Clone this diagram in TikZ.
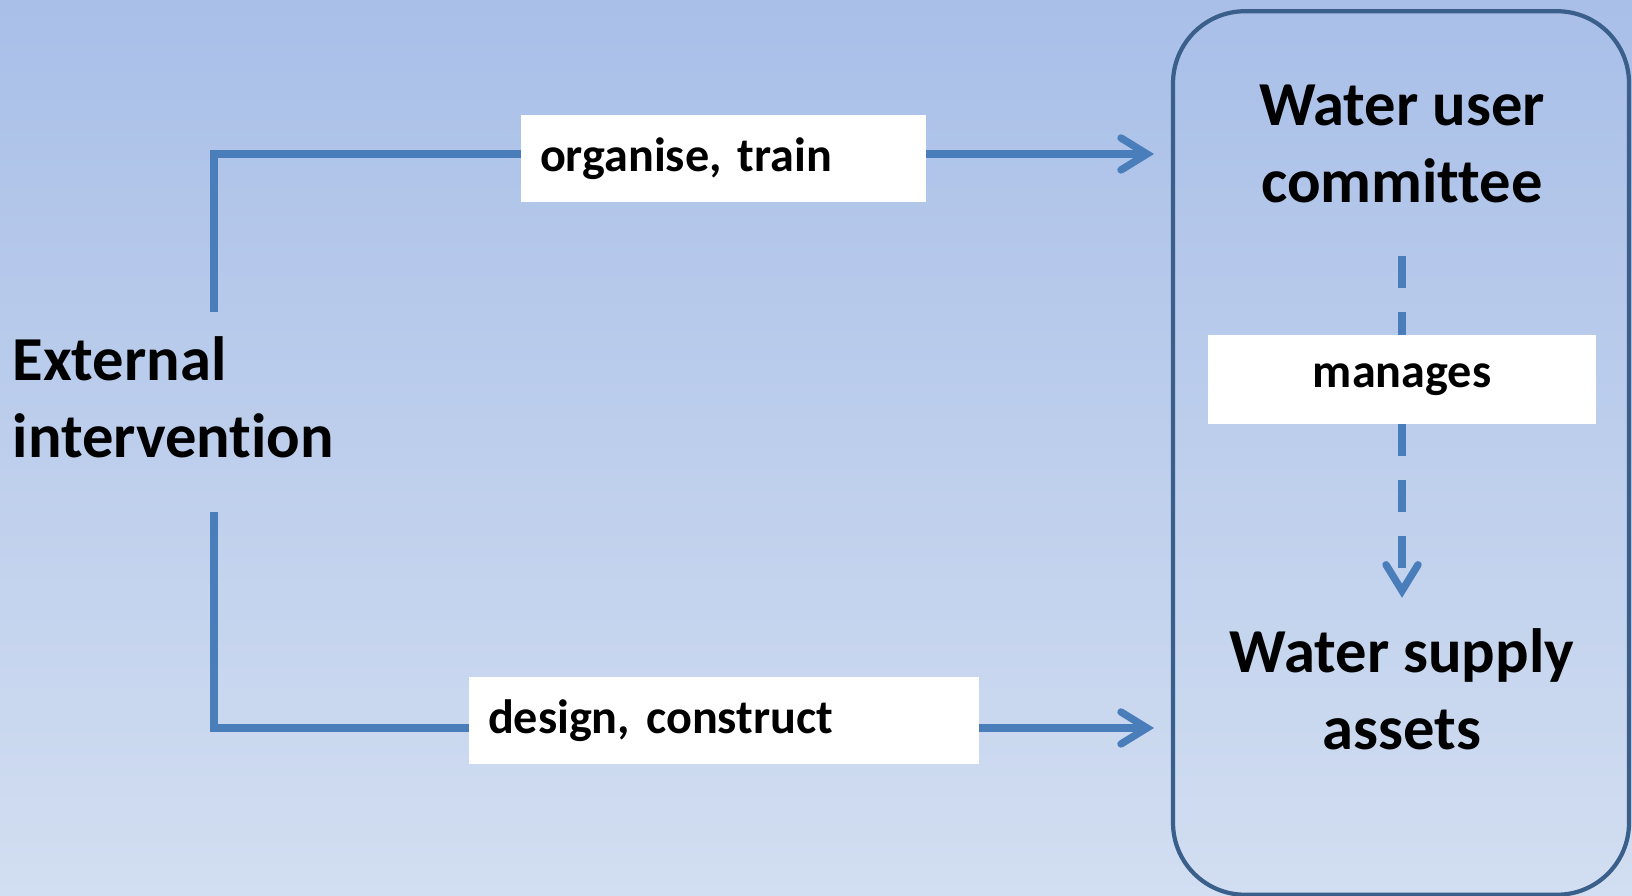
\documentclass[tikz,border=0pt]{standalone}
\usepackage{fontspec}
\setmainfont{Carlito}[RawFeature={-liga;-clig;-dlig;-calt}]
\usepackage{xcolor}
\usetikzlibrary{arrows.meta, calc}
\definecolor{skytop}{HTML}{A9BFE8}
\definecolor{skybot}{HTML}{D2DEF1}
\definecolor{linkblue}{HTML}{4A7EBB}
\definecolor{frameblue}{HTML}{3A5F8B}
\frenchspacing
\tikzset{
  flow/.style={-{Straight Barb[length=2.6mm, width=3.2mm, line cap=round]}, line width=2.1pt, color=linkblue},
  manage/.style={flow, dash pattern=on 3.2mm off 2.4mm},
  title/.style={font=\fontsize{17.8}{21.8}\selectfont\bfseries, align=center, inner sep=0pt},
  tag/.style={fill=white, font=\fontsize{13.7}{16}\selectfont\bfseries, minimum height=0.87cm, inner sep=0pt}
}

\begin{document}
\begin{tikzpicture}
\useasboundingbox (0,0) rectangle (16.32,8.96);
\shade[top color=skytop, bottom color=skybot] (0,0) rectangle (16.32,8.96);

\node[draw=frameblue, line width=1.2pt, rounded corners=0.72cm, minimum width=4.56cm, minimum height=8.835cm, inner sep=0pt] (panel) at (14.01,4.43) {};
\node[title] (wuc) at (14.02,7.52) {Water user\\committee};
\node[title] (wsa) at (14.02,2.07) {Water supply\\assets};
\node[title, align=left, anchor=west] (ext) at (0.12,4.99) {External\\intervention};

\coordinate (up) at (2.14,5.84);
\coordinate (down) at (2.14,3.84);
\coordinate (wucin) at (11.54,7.42);
\coordinate (wsain) at (11.54,1.68);

\draw[flow] (up) |- (wucin);
\draw[flow] (down) |- (wsain);
\draw[manage, shorten <=0.52cm, shorten >=0.3cm] (wuc.south) -- (wsa.north);

\node[tag, text width=3.67cm, inner xsep=0.19cm, align=left] (org) at (7.235,7.37) {organise, train};
\node[tag, text width=4.72cm, inner xsep=0.19cm, align=left] (build) at (7.24,1.75) {design, construct};
\node[tag, minimum width=3.88cm, minimum height=0.89cm] (mng) at (14.02,5.165) {manages};
\end{tikzpicture}
\end{document}
